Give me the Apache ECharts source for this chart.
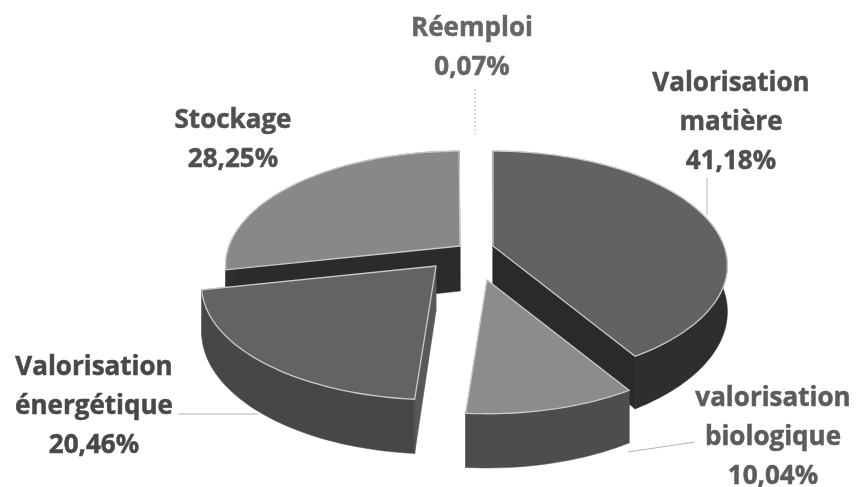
<!DOCTYPE html>
<html><head><meta charset="utf-8">
<style>html,body{margin:0;padding:0;background:#fff}#chart{width:860px;height:487px;filter:blur(0.5px)}</style>
<script src="https://cdn.jsdelivr.net/npm/echarts@6/dist/echarts.min.js"></script>
</head><body><div id="chart"></div>
<script>
// Data, clockwise from the top of the pie
const categories = ['Valorisation\nmatière', 'valorisation\nbiologique', 'Valorisation\nénergétique', 'Stockage', 'Réemploi'];
const shares = [41.18, 10.04, 20.46, 28.25, 0.07];

// View of the tilted pie
const pieCentre = [468, 255];
const explodeOffset = [[25, -9], [19, 25], [-32, 11], [-8, -9], [3, -20]];
const radiusX = 231, radiusY = 111, perspective = 0.17, thickness = 45;
const topColors = ['#626262', '#8c8c8c', '#636363', '#888888', '#ffffff'];
const wallColors = ['#2e2e2e', '#4d4d4d', '#474747', '#2f2f2f', '#ffffff'];
const cutColors = ['#2a2a2a', '#4d4d4d', '#585858', '#2b2b2b', '#ffffff'];
const paintOrder = [10, 30, 20, 0, 5];
const labelAnchors = [[731, 83], [773, 398], [94, 367], [233, 120], [472, 28]];
const labelColors = ['#4f4f4f', '#5c5c5c', '#484848', '#505050', '#666666'];
const leaders = [
  [[707, 178], [707, 215]], [[628, 452], [695, 442]],
  [[178, 414], [258, 414]], null, [[475, 89], [475, 134]]
];
const total = shares.reduce((a, b) => a + b, 0);

function project(apex, theta, r, drop) {
  const X = Math.sin(theta) * r, Y = -Math.cos(theta) * r;
  const s = 1 / (1 - perspective * Y);
  return [apex[0] + X * radiusX * s, apex[1] + Y * radiusY * s + drop * s];
}
function arcPoints(apex, a0, a1, drop) {
  const pts = [], n = Math.max(2, Math.ceil((a1 - a0) / 0.03));
  for (let i = 0; i <= n; i++) pts.push(project(apex, a0 + (a1 - a0) * i / n, 1, drop));
  return pts;
}
function renderSlice(params, api) {
  const i = params.dataIndex, value = api.value(0);
  let before = 0;
  for (let k = 0; k < i; k++) before += shares[k];
  const a0 = before / total * 2 * Math.PI, a1 = (before + value) / total * 2 * Math.PI;
  const apex = [pieCentre[0] + explodeOffset[i][0], pieCentre[1] + explodeOffset[i][1]];
  const z = paintOrder[i];
  const topArc = arcPoints(apex, a0, a1, 0);
  const lowArc = arcPoints(apex, a0, a1, thickness);
  const ap0 = project(apex, 0, 0, 0), ap1 = project(apex, 0, 0, thickness);
  const poly = (points, fill, zz, stroke, lw) => ({
    type: 'polygon', z2: zz, shape: { points },
    style: { fill, stroke: stroke || fill, lineWidth: lw || 0.5 }
  });
  const children = [
    poly([ap0, topArc[0], lowArc[0], ap1], cutColors[i], z),
    poly([ap0, topArc[topArc.length - 1], lowArc[lowArc.length - 1], ap1], cutColors[i], z),
    poly(topArc.concat(lowArc.slice().reverse()), wallColors[i], z + 1),
    poly([ap0].concat(topArc), topColors[i], z + 2, i === 4 ? '#ffffff' : '#c9c9c9', 1.3)
  ];
  if (leaders[i]) {
    children.push({
      type: 'line', z2: 40,
      shape: { x1: leaders[i][0][0], y1: leaders[i][0][1], x2: leaders[i][1][0], y2: leaders[i][1][1] },
      style: { stroke: '#b4b4b4', lineWidth: 1, lineDash: i === 4 ? [2, 2] : null }
    });
  }
  children.push({
    type: 'text', z2: 50,
    style: {
      x: labelAnchors[i][0], y: labelAnchors[i][1] - 19,
      text: categories[i] + '\n' + value.toFixed(2).replace('.', ',') + '%',
      align: 'center', verticalAlign: 'top', lineHeight: 39,
      fill: labelColors[i], stroke: labelColors[i], lineWidth: 0.5,
      font: 'bold 26px "Open Sans", Lato, sans-serif'
    }
  });
  return { type: 'group', children };
}
const chart = echarts.init(document.getElementById('chart'), null, { renderer: 'canvas' });
chart.setOption({
  animation: false,
  backgroundColor: '#ffffff',
  series: [{
    type: 'custom', coordinateSystem: 'none', silent: true,
    data: shares.map(v => [v]),
    renderItem: renderSlice
  }]
});
</script></body></html>
